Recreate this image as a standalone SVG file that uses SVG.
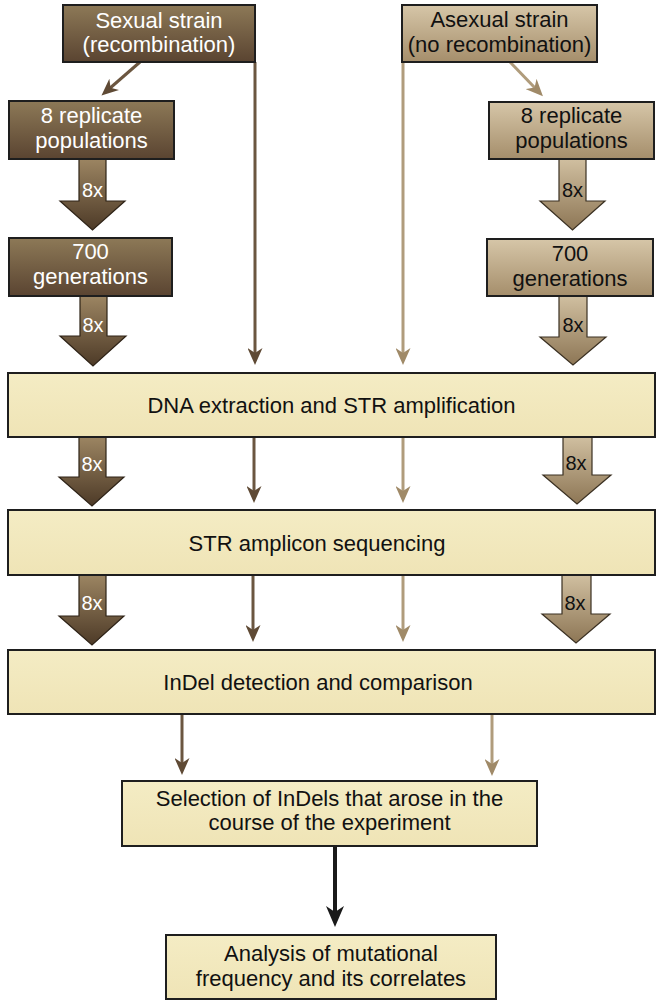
<svg xmlns="http://www.w3.org/2000/svg" width="661" height="1005" viewBox="0 0 661 1005">
<style>
text{font-family:"Liberation Sans",Arial,Helvetica,sans-serif;font-size:22px;text-anchor:middle}
.w{fill:#ffffff}
.k{fill:#111111}
.x8{font-size:20px}
.box{stroke:#1e1e1e;stroke-width:2}
.sb{fill:url(#gSex)}
.ab{fill:url(#gAsex)}
.yb{fill:url(#gYel)}
.sa{fill:url(#gSexA);stroke:#2e2317;stroke-width:1.2;stroke-linejoin:miter}
.aa{fill:url(#gAsexA);stroke:#3a3022;stroke-width:1.2;stroke-linejoin:miter}
.ls{stroke:#6b5640;stroke-width:3;fill:none;marker-end:url(#mS)}
.la{stroke:#b09c7c;stroke-width:3;fill:none;marker-end:url(#mA)}
.lk{stroke:#1a1a1a;stroke-width:4;fill:none;marker-end:url(#mK)}
</style>
<defs>
<linearGradient id="gSex" x1="0" y1="0" x2="0" y2="1"><stop offset="0" stop-color="#8d7957"/><stop offset="1" stop-color="#5a4431"/></linearGradient>
<linearGradient id="gAsex" x1="0" y1="0" x2="0" y2="1"><stop offset="0" stop-color="#d6c6a8"/><stop offset="1" stop-color="#a58e6b"/></linearGradient>
<linearGradient id="gSexA" x1="0" y1="0" x2="0" y2="1"><stop offset="0" stop-color="#9c8562"/><stop offset="1" stop-color="#4d3a27"/></linearGradient>
<linearGradient id="gAsexA" x1="0" y1="0" x2="0" y2="1"><stop offset="0" stop-color="#d0bfa0"/><stop offset="1" stop-color="#8d7655"/></linearGradient>
<linearGradient id="gYel" x1="0" y1="0" x2="0" y2="1"><stop offset="0" stop-color="#f4ecc4"/><stop offset="1" stop-color="#efe4b6"/></linearGradient>
<marker id="mS" viewBox="0 0 17 15" refX="7" refY="7.5" markerWidth="17" markerHeight="15" markerUnits="userSpaceOnUse" orient="auto"><path d="M0,0 L17,7.5 L0,15 L5,7.5 Z" fill="#5f4a35"/></marker>
<marker id="mA" viewBox="0 0 17 15" refX="7" refY="7.5" markerWidth="17" markerHeight="15" markerUnits="userSpaceOnUse" orient="auto"><path d="M0,0 L17,7.5 L0,15 L5,7.5 Z" fill="#a08a68"/></marker>
<marker id="mK" viewBox="0 0 21 18" refX="8" refY="9" markerWidth="21" markerHeight="18" markerUnits="userSpaceOnUse" orient="auto"><path d="M0,0 L21,9 L0,18 L6,9 Z" fill="#1a1a1a"/></marker>
</defs>

<g id="connectors">
<!-- thin sexual / asexual lines -->
<path class="ls" d="M140,62 L109,89"/>
<path class="la" d="M510,62 L536,89"/>
<path class="ls" d="M255,62 L255,355"/>
<path class="la" d="M403,62 L403,355"/>
<path class="ls" d="M254,437 L254,493"/>
<path class="la" d="M403,437 L403,493"/>
<path class="ls" d="M253,575 L253,632"/>
<path class="la" d="M403,575 L403,632"/>
<path class="ls" d="M182,714 L182,765"/>
<path class="la" d="M492,714 L492,766"/>
<path class="lk" d="M335,846 L335,914"/>
<!-- block arrows sexual -->
<path class="sa" d="M79,159 L106,159 L106,201 L125,201 L92.5,230 L60,201 L79,201 Z"/>
<path class="sa" d="M80,296 L107,296 L107,336 L126,336 L93,366 L60,336 L80,336 Z"/>
<path class="sa" d="M79,437 L106,437 L106,477 L124,477 L92,506 L59,477 L79,477 Z"/>
<path class="sa" d="M79,575 L106,575 L106,616 L124,616 L92,645 L59,616 L79,616 Z"/>
<!-- block arrows asexual -->
<path class="aa" d="M559,159 L586,159 L586,201 L605,201 L572.5,230 L540,201 L559,201 Z"/>
<path class="aa" d="M559,296 L587,296 L587,337 L606,337 L573,365 L540,337 L559,337 Z"/>
<path class="aa" d="M563,437 L592,437 L592,475 L611,475 L577,504 L543,475 L563,475 Z"/>
<path class="aa" d="M562,575 L591,575 L591,614 L610,614 L576,643 L542,614 L562,614 Z"/>
<text class="w x8" x="92.5" y="197">8x</text>
<text class="w x8" x="93" y="332">8x</text>
<text class="w x8" x="92" y="471">8x</text>
<text class="w x8" x="92" y="610">8x</text>
<text class="k x8" x="572.5" y="197">8x</text>
<text class="k x8" x="573" y="332">8x</text>
<text class="k x8" x="576" y="470">8x</text>
<text class="k x8" x="575" y="610">8x</text>
</g>

<g id="sexual-strain">
<rect class="box sb" x="63" y="5" width="192" height="57"/>
<text class="w" x="159" y="28">Sexual strain</text>
<text class="w" x="159" y="52">(recombination)</text>
</g>
<g id="asexual-strain">
<rect class="box ab" x="402" y="5" width="195" height="57"/>
<text class="k" x="499.5" y="27">Asexual strain</text>
<text class="k" x="499.5" y="52">(no recombination)</text>
</g>
<g id="sexual-replicates">
<rect class="box sb" x="9" y="101" width="165" height="58"/>
<text class="w" x="91.5" y="123">8 replicate</text>
<text class="w" x="91.5" y="148">populations</text>
</g>
<g id="asexual-replicates">
<rect class="box ab" x="489" y="102" width="165" height="57"/>
<text class="k" x="571.5" y="123">8 replicate</text>
<text class="k" x="571.5" y="148">populations</text>
</g>
<g id="sexual-generations">
<rect class="box sb" x="9" y="238" width="163" height="58"/>
<text class="w" x="90.5" y="259">700</text>
<text class="w" x="90.5" y="284">generations</text>
</g>
<g id="asexual-generations">
<rect class="box ab" x="487" y="239" width="166" height="57"/>
<text class="k" x="570" y="261">700</text>
<text class="k" x="570" y="286">generations</text>
</g>
<g id="dna-extraction">
<rect class="box yb" x="8" y="373" width="647" height="64"/>
<text class="k" x="331.5" y="413">DNA extraction and STR amplification</text>
</g>
<g id="str-sequencing">
<rect class="box yb" x="8" y="510" width="647" height="65"/>
<text class="k" x="317" y="551">STR amplicon sequencing</text>
</g>
<g id="indel-detection">
<rect class="box yb" x="8" y="650" width="647" height="64"/>
<text class="k" x="318" y="690">InDel detection and comparison</text>
</g>
<g id="selection">
<rect class="box yb" x="122" y="781" width="415" height="65"/>
<text class="k" x="329.5" y="806">Selection of InDels that arose in the</text>
<text class="k" x="329.5" y="830">course of the experiment</text>
</g>
<g id="analysis">
<rect class="box yb" x="166" y="935" width="330" height="64"/>
<text class="k" x="331" y="961">Analysis of mutational</text>
<text class="k" x="331" y="986">frequency and its correlates</text>
</g>
</svg>
